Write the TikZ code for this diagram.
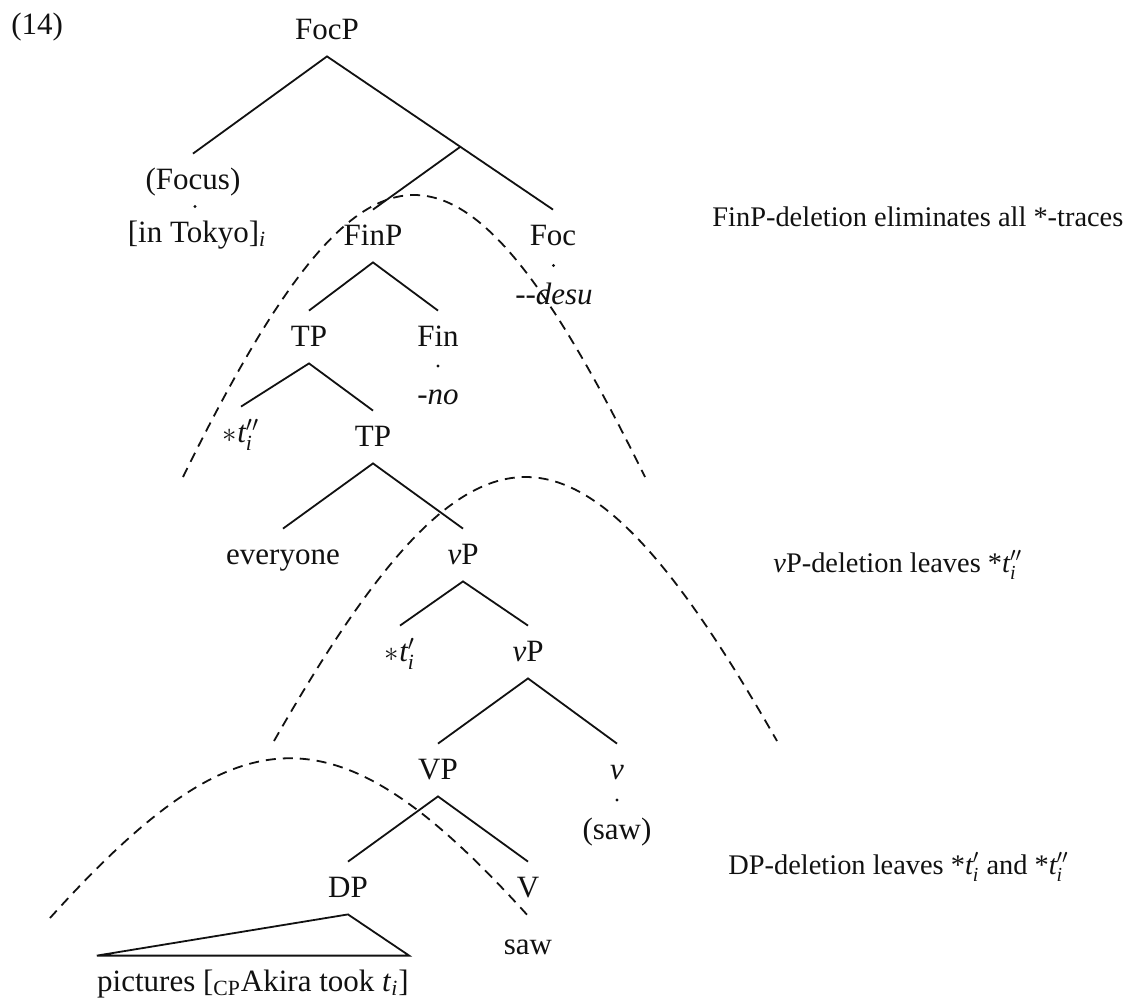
\documentclass[tikz,border=0pt]{standalone}
\usepackage{fontspec}
\usepackage{amsmath}
\setmainfont{Liberation Serif}
\usetikzlibrary{calc}
\definecolor{synInk}{HTML}{111111}
\newcommand{\trc}[1]{$\textit{t}#1_{\textit{i}}$}
\tikzset{
  syn node/.style={font=\fontsize{15.5}{18}\selectfont, text=synInk, inner xsep=0pt, inner ysep=6.5pt, text height=11pt, text depth=2pt},
  syn branch/.style={draw=synInk, line width=0.9pt},
  syn arc/.style={draw=synInk, line width=0.9pt, dash pattern=on 5pt off 3.5pt},
  syn note/.style={font=\fontsize{14.2}{17}\selectfont, text=synInk, anchor=west, inner sep=0pt},
}

\begin{document}
\begin{tikzpicture}[x=0.5pt, y=-0.5pt]
  \useasboundingbox (0,0) rectangle (1128,1002);
  \node[syn node, anchor=west] (num) at (11,25) {(14)};
  % Upper tree: FocP down to TP
  \node[syn node] (focp) at (327,30) {FocP};
  \node[syn node] (focus) at (193,180) {(Focus)};
  \node[syn node] (tokyo) at (197,233) {[in Tokyo]$_{\textit{i}}$};
  \node[syn node] (finp) at (373,236) {FinP};
  \node[syn node] (foc) at (553,236) {Foc};
  \node[syn node] (desu) at (554,295) {-{}-\textit{desu}};
  \node[syn node] (tp) at (309,337) {TP};
  \node[syn node] (fin) at (438,337) {Fin};
  \node[syn node] (no) at (438,395) {-\textit{no}};
  \node[syn node] (trc2) at (241,433) {$\ast$\trc{''}};
  \node[syn node] (tplow) at (373,437) {TP};
  % Lower tree: vP down to DP
  \node[syn node] (everyone) at (283,555) {everyone};
  \node[syn node] (vp1) at (463,555) {\textit{v}P};
  \node[syn node] (trc1) at (400,652) {$\ast$\trc{'}};
  \node[syn node] (vp2) at (528,652) {\textit{v}P};
  \node[syn node] (vvp) at (438,770) {VP};
  \node[syn node] (litv) at (617,770) {\textit{v}};
  \node[syn node] (vsaw) at (617,830) {(saw)};
  \node[syn node] (dp) at (348,888) {DP};
  \node[syn node] (bigv) at (528,888) {V};
  \node[syn node] (saw) at (528,945) {saw};
  \node[syn node] (pics) at (253,982) {pictures [$_{\text{CP}}$Akira took \textit{t}$_{\textit{i}}$]};
  % Branches
  \draw[syn branch] (focus.north) -- (focp.south) -- (foc.north)
    coordinate[pos=0.59] (bar);
  \draw[syn branch] (bar) -- (finp.north);
  \foreach \p/\l/\r in {finp/tp/fin, tp/trc2/tplow, tplow/everyone/vp1,
                        vp1/trc1/vp2, vp2/vvp/litv, vvp/dp/bigv}
    \draw[syn branch] (\l.north) -- (\p.south) -- (\r.north);
  \draw[syn branch] (dp.south) -- (pics.north west) -- (pics.north east) -- cycle;
  % Head-to-word dots
  \foreach \a/\b in {focus/tokyo, foc/desu, fin/no, litv/vsaw}
    \fill[synInk] ($(\a.south)!0.5!(\b.north)$) circle (1.6);
  % Deletion domains
  \draw[syn arc] (183,477) .. controls (368,101) and (460,101) .. (645,477);
  \draw[syn arc] (274,741) .. controls (475,389) and (576,389) .. (777,741);
  \draw[syn arc] (50,918) .. controls (242,705) and (338,705) .. (530,918);
  % Notes on the right
  \node[syn note] (note1) at (712,217) {FinP-deletion eliminates all *-traces};
  \node[syn note] (note2) at (773,565) {\textit{v}P-deletion leaves *\trc{''}};
  \node[syn note] (note3) at (728,867) {DP-deletion leaves *\trc{'} and *\trc{''}};
\end{tikzpicture}
\end{document}
